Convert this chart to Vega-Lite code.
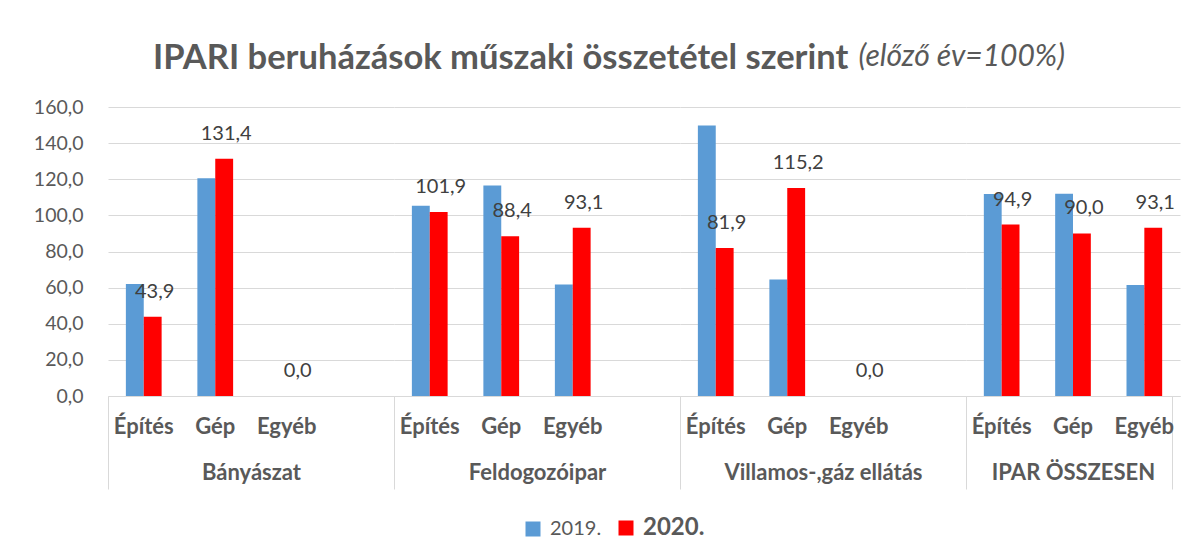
{
  "$schema": "https://vega.github.io/schema/vega-lite/v6.json",
  "background": "white",
  "padding": {"left": 33, "top": 40, "right": 6, "bottom": 0},
  "title": {
    "text": "IPARI beruházások műszaki összetétel szerint",
    "anchor": "start",
    "frame": "group",
    "dx": 45,
    "offset": -35,
    "font": "Lato",
    "fontSize": 34.5,
    "fontWeight": "bold",
    "color": "#595959"
  },
  "data": {
    "values": [
      {"group": "Bányászat", "sub": "Építés", "year": "2019.", "value": 62.0},
      {"group": "Bányászat", "sub": "Építés", "year": "2020.", "value": 43.9},
      {"group": "Bányászat", "sub": "Gép", "year": "2019.", "value": 120.5},
      {"group": "Bányászat", "sub": "Gép", "year": "2020.", "value": 131.4},
      {"group": "Bányászat", "sub": "Egyéb", "year": "2020.", "value": 0.0},
      {"group": "Feldogozóipar", "sub": "Építés", "year": "2019.", "value": 105.3},
      {"group": "Feldogozóipar", "sub": "Építés", "year": "2020.", "value": 101.9},
      {"group": "Feldogozóipar", "sub": "Gép", "year": "2019.", "value": 116.6},
      {"group": "Feldogozóipar", "sub": "Gép", "year": "2020.", "value": 88.4},
      {"group": "Feldogozóipar", "sub": "Egyéb", "year": "2019.", "value": 61.7},
      {"group": "Feldogozóipar", "sub": "Egyéb", "year": "2020.", "value": 93.1},
      {"group": "Villamos-,gáz ellátás", "sub": "Építés", "year": "2019.", "value": 149.8},
      {"group": "Villamos-,gáz ellátás", "sub": "Építés", "year": "2020.", "value": 81.9},
      {"group": "Villamos-,gáz ellátás", "sub": "Gép", "year": "2019.", "value": 64.5},
      {"group": "Villamos-,gáz ellátás", "sub": "Gép", "year": "2020.", "value": 115.2},
      {"group": "Villamos-,gáz ellátás", "sub": "Egyéb", "year": "2020.", "value": 0.0},
      {"group": "IPAR ÖSSZESEN", "sub": "Építés", "year": "2019.", "value": 111.8},
      {"group": "IPAR ÖSSZESEN", "sub": "Építés", "year": "2020.", "value": 94.9},
      {"group": "IPAR ÖSSZESEN", "sub": "Gép", "year": "2019.", "value": 112.0},
      {"group": "IPAR ÖSSZESEN", "sub": "Gép", "year": "2020.", "value": 90.0},
      {"group": "IPAR ÖSSZESEN", "sub": "Egyéb", "year": "2019.", "value": 61.5},
      {"group": "IPAR ÖSSZESEN", "sub": "Egyéb", "year": "2020.", "value": 93.1}
    ]
  },
  "spacing": 0,
  "bounds": "flush",
  "resolve": {"scale": {"x": "independent", "xOffset": "independent", "y": "shared", "color": "shared"}},
  "hconcat": [
    {
      "width": 286, "height": 289,
      "transform": [{"filter": {"field": "group", "equal": "Bányászat"}}],
      "encoding": {
        "x": {"field": "sub", "type": "nominal",
          "scale": {"domain": ["Építés", "Gép", "Egyéb", " "], "paddingInner": 0, "paddingOuter": 0},
          "axis": {"title": "Bányászat", "bandPosition": 0,
            "tickOpacity": {"condition": {"test": "datum.value === 'Építés'", "value": 1}, "value": 0}}},
        "xOffset": {"field": "year", "type": "nominal", "scale": {"domain": ["2019.", "2020."], "paddingInner": 0, "paddingOuter": 1.1}},
        "y": {"field": "value", "type": "quantitative", "scale": {"domain": [0, 160], "nice": false},
          "axis": {"values": [0, 20, 40, 60, 80, 100, 120, 140, 160], "format": ".1f",
            "title": "(előző év=100%)", "titleAngle": 0, "titleFontStyle": "italic", "titleFontWeight": "normal",
            "titleFontSize": 30, "titleFont": "Lato", "titleColor": "#595959", "titleAlign": "left", "titleBaseline": "alphabetic",
            "titleX": 750, "titleY": -42}}
      },
      "layer": [
        {"mark": {"type": "bar"},
          "encoding": {"color": {"field": "year", "type": "nominal",
            "scale": {"domain": ["2019.", "2020."], "range": ["#5B9BD5", "#FF0000"]},
            "legend": {"orient": "none", "legendX": 415, "legendY": 411, "direction": "horizontal", "title": null,
              "symbolType": "square", "symbolSize": 225, "symbolStrokeWidth": 0, "columnPadding": 14, "labelOffset": 7,
              "labelColor": "#595959", "labelFont": "Lato",
              "labelFontSize": {"expr": "datum.label === '2020.' ? 24 : 20"},
              "labelFontWeight": {"expr": "datum.label === '2020.' ? 'bold' : 'normal'"}}}}},
        {"transform": [{"filter": {"field": "year", "equal": "2020."}}],
          "mark": {"type": "text", "dy": -25, "dx": 2, "fontSize": 20, "font": "Lato", "color": "#404040"},
          "encoding": {"text": {"field": "value", "type": "quantitative", "format": ".1f"}}}
      ]
    },
    {
      "width": 286, "height": 289,
      "transform": [{"filter": {"field": "group", "equal": "Feldogozóipar"}}],
      "encoding": {
        "x": {"field": "sub", "type": "nominal",
          "scale": {"domain": ["Építés", "Gép", "Egyéb", " "], "paddingInner": 0, "paddingOuter": 0},
          "axis": {"title": "Feldogozóipar", "bandPosition": 0,
            "tickOpacity": {"condition": {"test": "datum.value === 'Építés'", "value": 1}, "value": 0}}},
        "xOffset": {"field": "year", "type": "nominal", "scale": {"domain": ["2019.", "2020."], "paddingInner": 0, "paddingOuter": 1.1}},
        "y": {"field": "value", "type": "quantitative", "scale": {"domain": [0, 160], "nice": false},
          "axis": {"values": [0, 20, 40, 60, 80, 100, 120, 140, 160], "labels": false, "title": null}}
      },
      "layer": [
        {"mark": {"type": "bar"},
          "encoding": {"color": {"field": "year", "type": "nominal",
            "scale": {"domain": ["2019.", "2020."], "range": ["#5B9BD5", "#FF0000"]}}}},
        {"transform": [{"filter": {"field": "year", "equal": "2020."}}],
          "mark": {"type": "text", "dy": -25, "dx": 2, "fontSize": 20, "font": "Lato", "color": "#404040"},
          "encoding": {"text": {"field": "value", "type": "quantitative", "format": ".1f"}}}
      ]
    },
    {
      "width": 286, "height": 289,
      "transform": [{"filter": {"field": "group", "equal": "Villamos-,gáz ellátás"}}],
      "encoding": {
        "x": {"field": "sub", "type": "nominal",
          "scale": {"domain": ["Építés", "Gép", "Egyéb", " "], "paddingInner": 0, "paddingOuter": 0},
          "axis": {"title": "Villamos-,gáz ellátás", "bandPosition": 0,
            "tickOpacity": {"condition": {"test": "datum.value === 'Építés'", "value": 1}, "value": 0}}},
        "xOffset": {"field": "year", "type": "nominal", "scale": {"domain": ["2019.", "2020."], "paddingInner": 0, "paddingOuter": 1.1}},
        "y": {"field": "value", "type": "quantitative", "scale": {"domain": [0, 160], "nice": false},
          "axis": {"values": [0, 20, 40, 60, 80, 100, 120, 140, 160], "labels": false, "title": null}}
      },
      "layer": [
        {"mark": {"type": "bar"},
          "encoding": {"color": {"field": "year", "type": "nominal",
            "scale": {"domain": ["2019.", "2020."], "range": ["#5B9BD5", "#FF0000"]}}}},
        {"transform": [{"filter": {"field": "year", "equal": "2020."}}],
          "mark": {"type": "text", "dy": -25, "dx": 2, "fontSize": 20, "font": "Lato", "color": "#404040"},
          "encoding": {"text": {"field": "value", "type": "quantitative", "format": ".1f"}}}
      ]
    },
    {
      "width": 214, "height": 289,
      "transform": [{"filter": {"field": "group", "equal": "IPAR ÖSSZESEN"}}],
      "encoding": {
        "x": {"field": "sub", "type": "nominal",
          "scale": {"domain": ["Építés", "Gép", "Egyéb"], "paddingInner": 0, "paddingOuter": 0},
          "axis": {"title": "IPAR ÖSSZESEN", "bandPosition": 0.9, "tickExtra": true,
            "tickOpacity": {"condition": {"test": "datum.value === 'Egyéb' || datum.extra", "value": 1}, "value": 0}}},
        "xOffset": {"field": "year", "type": "nominal", "scale": {"domain": ["2019.", "2020."], "paddingInner": 0, "paddingOuter": 1.1}},
        "y": {"field": "value", "type": "quantitative", "scale": {"domain": [0, 160], "nice": false},
          "axis": {"values": [0, 20, 40, 60, 80, 100, 120, 140, 160], "labels": false, "title": null}}
      },
      "layer": [
        {"mark": {"type": "bar"},
          "encoding": {"color": {"field": "year", "type": "nominal",
              "scale": {"domain": ["2019.", "2020."], "range": ["#5B9BD5", "#FF0000"]}}}},
        {"transform": [{"filter": {"field": "year", "equal": "2020."}}],
          "mark": {"type": "text", "dy": -25, "dx": 2, "fontSize": 20, "font": "Lato", "color": "#404040"},
          "encoding": {"text": {"field": "value", "type": "quantitative", "format": ".1f"}}}
      ]
    }
  ],
  "config": {
    "font": "Lato",
    "locale": {"number": {"decimal": ",", "thousands": " ", "grouping": [3], "currency": ["", ""]}},
    "view": {"stroke": null},
    "axisX": {
      "labelAngle": 0, "labelFont": "Lato", "labelFontSize": 22, "labelFontWeight": "bold", "labelColor": "#595959",
      "labelBaseline": "middle", "labelPadding": -63, "labelOverlap": false,
      "ticks": true, "tickSize": 93, "tickColor": "#d9d9d9", "tickWidth": 1,
      "domain": true, "domainColor": "#d9d9d9", "domainWidth": 1,
      "titleFont": "Lato", "titleFontSize": 22, "titleFontWeight": "bold", "titleColor": "#595959", "titlePadding": -27,
      "grid": false
    },
    "axisY": {
      "labelFont": "Lato", "labelFontSize": 19.5, "labelColor": "#595959", "labelPadding": 25, "labelOverlap": false,
      "ticks": false, "domain": false, "grid": true, "gridColor": "#d9d9d9", "gridWidth": 1
    }
  }
}
